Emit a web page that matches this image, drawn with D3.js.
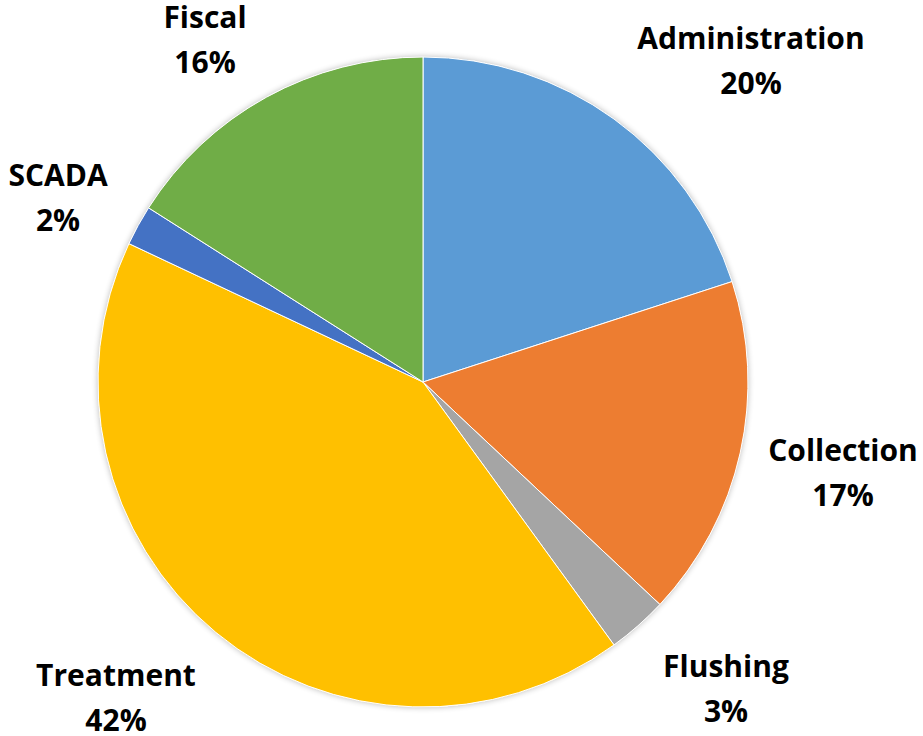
<!DOCTYPE html>
<html><head><meta charset="utf-8">
<script src="https://cdn.jsdelivr.net/npm/d3@7"></script>
<style>body{margin:0;background:#fff}svg{display:block}</style>
</head><body>
<svg id="chart" width="923" height="736"></svg>
<script>
const categories = ["Administration","Collection","Flushing","Treatment","SCADA","Fiscal"];
const values = [20,17,3,42,2,16];
const labels = ["20%","17%","3%","42%","2%","16%"];
const colors = ["#5B9BD5","#ED7D31","#A5A5A5","#FFC000","#4472C4","#70AD47"];
const labelPos = [[751,49],[843,461],[726,677],[116,686],[58,186],[205,28]];

const svg = d3.select("#chart");
const cx = 423, cy = 382, r = 325;
const defs = svg.append("defs");
const f = defs.append("filter").attr("id","sh").attr("x","-10%").attr("y","-10%").attr("width","120%").attr("height","120%");
f.append("feGaussianBlur").attr("in","SourceAlpha").attr("stdDeviation",3).attr("result","b");
f.append("feComponentTransfer").attr("in","b").attr("result","t").append("feFuncA").attr("type","linear").attr("slope",0.3);
const m = f.append("feMerge"); m.append("feMergeNode").attr("in","t"); m.append("feMergeNode").attr("in","SourceGraphic");

const data = categories.map((c,i)=>({cat:c,value:values[i],label:labels[i],color:colors[i],pos:labelPos[i]}));
const pie = d3.pie().value(d=>d.value).sort(null);
const arc = d3.arc().innerRadius(0).outerRadius(r);
const g = svg.append("g").attr("transform",`translate(${cx},${cy})`);
g.append("circle").attr("r",r).attr("fill","#fff").attr("filter","url(#sh)");
g.selectAll("path").data(pie(data)).join("path")
  .attr("d",arc).attr("fill",d=>d.data.color)
  .attr("stroke","#fff").attr("stroke-width",1);

const t = svg.selectAll("text.lbl").data(data).join("text")
  .attr("class","lbl")
  .attr("text-anchor","middle")
  .attr("font-family","'Open Sans', Lato, sans-serif")
  .attr("font-weight","bold").attr("font-size",30).attr("fill","#000");
t.append("tspan").attr("x",d=>d.pos[0]).attr("y",d=>d.pos[1]).text(d=>d.cat);
t.append("tspan").attr("x",d=>d.pos[0]).attr("y",d=>d.pos[1]+45).text(d=>d.label);
</script>
</body></html>
